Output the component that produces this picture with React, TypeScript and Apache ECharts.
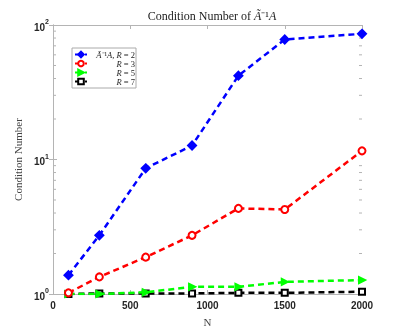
import React, { useEffect, useRef } from "react";
import * as echarts from "echarts";

const nValues = [100, 300, 600, 900, 1200, 1500, 2000];
const r2 = [1.38, 2.73, 8.6, 12.7, 42, 78, 86];
const r3 = [1.02, 1.34, 1.88, 2.73, 4.33, 4.25, 11.6];
const r5 = [1.0, 1.0, 1.03, 1.13, 1.13, 1.23, 1.27];
const r7 = [1.0, 1.01, 1.01, 1.01, 1.02, 1.02, 1.04];
const minorTicks = [2, 3, 4, 5, 6, 7, 8, 9, 20, 30, 40, 50, 60, 70, 80, 90];

const AXIS = "#b4b4b4";
const LABEL = "#262626";

export default function App() {
  const ref = useRef<HTMLDivElement>(null);
  useEffect(() => {
    if (!ref.current) return;
    const chart = echarts.init(ref.current, null, { renderer: "svg" });
    const mk = (ys: number[]) => nValues.map((x, i) => [x, ys[i]]);
    const lineBase = (name: string, ys: number[], color: string, symbol: string, size: number, extra: any = {}) => ({
      name,
      type: "line",
      data: mk(ys),
      symbol,
      symbolSize: size,
      lineStyle: { color, width: 2.5, type: [6, 4] },
      itemStyle: { color, borderColor: color, borderWidth: 2, ...(extra.itemStyle || {}) },
      showSymbol: true,
      z: extra.z || 3,
      symbolRotate: extra.symbolRotate,
    });
    chart.setOption({
      animation: false,
      title: {
        text: "{n|Condition Number of }{i|Ã}{n|⁻¹}{i|A}",
        left: 207,
        textAlign: "center",
        top: 5,
        textStyle: {
          fontWeight: "normal",
          rich: {
            n: { fontFamily: "Liberation Serif", fontWeight: "normal", fontSize: 12, color: "#222" },
            i: { fontFamily: "Liberation Serif", fontWeight: "normal", fontStyle: "italic", fontSize: 12, color: "#222" },
          },
        },
      },
      grid: { left: 53, right: 37, top: 25, bottom: 36, containLabel: false },
      legend: {
        left: 72,
        top: 48,
        orient: "vertical",
        itemWidth: 12,
        itemHeight: 7,
        itemGap: 0,
        padding: [2, 1, 2, 2],
        borderColor: "#aaa",
        borderWidth: 1,
        backgroundColor: "#fff",
        data: ["r2", "r3", "r5", "r7"],
        formatter: (name: string) =>
          name === "r2"
            ? "{i|Ã}{n|⁻¹}{i|A}{n|, }{i|R}{n| = 2}"
            : "{i|R}{n| = " + name.slice(1) + "}",
        textStyle: {
          width: 43,
          align: "right",
          padding: [0, 0, 0, 0],
          rich: {
            n: { fontFamily: "Liberation Serif", fontSize: 8.5, lineHeight: 10, color: "#222", align: "right" },
            i: { fontFamily: "Liberation Serif", fontStyle: "italic", fontSize: 8.5, lineHeight: 10, color: "#222", align: "right" },
          },
        },
      },
      xAxis: [
        {
          type: "value",
          min: 0,
          max: 2000,
          interval: 500,
          name: "N",
          nameLocation: "middle",
          nameGap: 22,
          nameTextStyle: { fontFamily: "Liberation Serif", fontSize: 11, color: "#444" },
          axisLine: { lineStyle: { color: AXIS } },
          axisTick: { inside: true, length: 4, lineStyle: { color: AXIS } },
          axisLabel: {
            fontFamily: "Liberation Sans",
            fontWeight: "bold",
            fontSize: 10,
            color: LABEL,
            margin: 6,
            formatter: (v: number) => String(v),
          },
          splitLine: { show: false },
        },
        {
          type: "value",
          position: "top",
          min: 0,
          max: 2000,
          interval: 500,
          axisLine: { lineStyle: { color: AXIS } },
          axisTick: { inside: true, length: 4, lineStyle: { color: AXIS } },
          axisLabel: { show: false },
          splitLine: { show: false },
        },
      ],
      yAxis: [
        {
          type: "log",
          logBase: 10,
          min: 1,
          max: 100,
          name: "Condition Number",
          nameLocation: "middle",
          nameGap: 21,
          nameTextStyle: { fontFamily: "Liberation Serif", fontSize: 11, color: "#444" },
          axisLine: { show: true, lineStyle: { color: AXIS } },
          axisTick: { show: true, inside: true, length: 4, lineStyle: { color: AXIS } },
          axisLabel: {
            margin: 4,
            formatter: (v: number) => "{b|10}{s|" + Math.round(Math.log10(v)) + "}",
            rich: {
              b: { fontFamily: "Liberation Sans", fontWeight: "bold", fontSize: 10, color: LABEL, lineHeight: 14, verticalAlign: "bottom" },
              s: { fontFamily: "Liberation Sans", fontWeight: "bold", fontSize: 7, color: LABEL, lineHeight: 8, verticalAlign: "top" },
            },
          },
          splitLine: { show: false },
        },
        {
          type: "log",
          logBase: 10,
          min: 1,
          max: 100,
          position: "right",
          axisLine: { show: true, lineStyle: { color: AXIS } },
          axisTick: { show: true, inside: true, length: 4, lineStyle: { color: AXIS } },
          axisLabel: { show: false },
          splitLine: { show: false },
        },
      ],
      series: [
        {
          type: "custom",
          silent: true,
          data: minorTicks.map((v) => [0, v]),
          renderItem: (params: any, api: any) => {
            const v = api.value(1);
            const l = api.coord([0, v]);
            const r = api.coord([2000, v]);
            return {
              type: "group",
              children: [
                { type: "line", shape: { x1: l[0], y1: l[1], x2: l[0] + 3, y2: l[1] }, style: { stroke: AXIS, lineWidth: 1 } },
                { type: "line", shape: { x1: r[0], y1: r[1], x2: r[0] - 3, y2: r[1] }, style: { stroke: AXIS, lineWidth: 1 } },
              ],
            };
          },
          z: 1,
        },
        lineBase("r7", r7, "#000000", "rect", 6, { itemStyle: { color: "#fff" }, z: 3 }),
        lineBase("r5", r5, "#00ff00", "triangle", 6, { symbolRotate: -90, z: 4 }),
        lineBase("r3", r3, "#ff0000", "circle", 7, { itemStyle: { color: "#fff" }, z: 5 }),
        lineBase("r2", r2, "#0000ff", "diamond", 8, { z: 6 }),
      ],
    });
    return () => chart.dispose();
  }, []);
  return <div ref={ref} style={{ position: "fixed", left: 0, top: 0, width: 399, height: 332 }} />;
}
